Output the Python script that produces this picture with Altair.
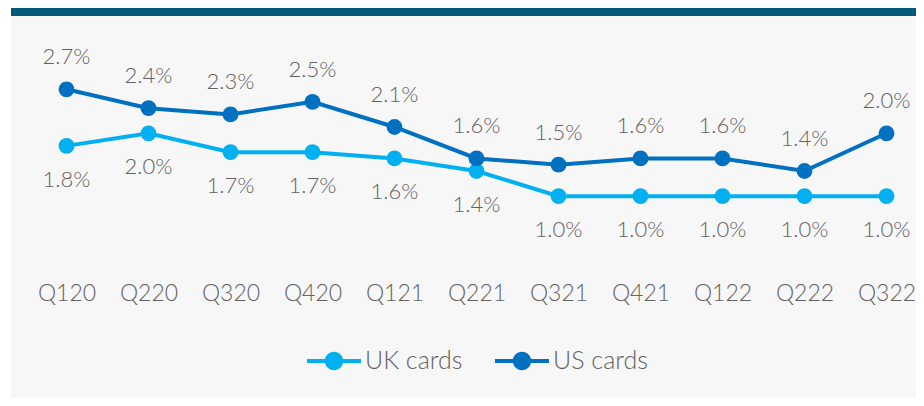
import altair as alt
import pandas as pd

quarters = ["Q120", "Q220", "Q320", "Q420", "Q121", "Q221", "Q321", "Q421", "Q122", "Q222", "Q322"]
uk_cards = [1.8, 2.0, 1.7, 1.7, 1.6, 1.4, 1.0, 1.0, 1.0, 1.0, 1.0]
us_cards = [2.7, 2.4, 2.3, 2.5, 2.1, 1.6, 1.5, 1.6, 1.6, 1.4, 2.0]
series_names = ["UK cards", "US cards"]
series_colors = ["#00B0F0", "#0070C0"]

rows = []
for q, v in zip(quarters, uk_cards):
    rows.append({"quarter": q, "series": "UK cards", "value": v, "label": f"{v:.1f}%"})
for q, v in zip(quarters, us_cards):
    rows.append({"quarter": q, "series": "US cards", "value": v, "label": f"{v:.1f}%"})
df = pd.DataFrame(rows)

FONT = "Lato"
TXT = "#626262"

W, H = 861, 220
PAD_L, PAD_T, PAD_R = 38, 31, 9
TOTAL_H = 390

x_enc = alt.X(
    "quarter:N",
    sort=quarters,
    scale=alt.Scale(type="point", padding=0, range=[20.5, 840.5]),
    axis=alt.Axis(
        title=None, labelAngle=0, ticks=False, tickSize=0, domain=False, grid=False,
        labelFontSize=23, labelColor=TXT, labelFont=FONT, labelFontWeight=300,
        labelPadding=23, zindex=2,
    ),
)
y_enc = alt.Y("value:Q", scale=alt.Scale(domain=[0, 3.5]), axis=None)
color_scale = alt.Scale(domain=series_names, range=series_colors)

legend_symbol = (
    "M -1 -0.075 H 1 V 0.075 H -1 Z "
    "M 0.34 0 A 0.34 0.34 0 1 1 -0.34 0 A 0.34 0.34 0 1 1 0.34 0 Z"
)
legend = alt.Legend(
    title=None, orient="none", direction="horizontal",
    legendX=261, legendY=295, padding=0, zindex=2,
    symbolType=legend_symbol, symbolSize=2916, symbolStrokeWidth=0,
    symbolOpacity=1, labelFontSize=25, labelFont=FONT, labelFontWeight=300,
    labelColor=TXT, labelOffset=4, columnPadding=32,
)

one = pd.DataFrame({"a": [0]})
panel = alt.Chart(one).mark_rect(color="#F7F7F7").encode(
    x=alt.value(-35), x2=alt.value(900), y=alt.value(-23), y2=alt.value(400)
)
topbar = alt.Chart(one).mark_rect(color="#02597B").encode(
    x=alt.value(-35), x2=alt.value(900), y=alt.value(-40), y2=alt.value(-23)
)

base = alt.Chart(df)
lines = base.mark_line(strokeWidth=4).encode(
    x=x_enc, y=y_enc,
    color=alt.Color("series:N", scale=color_scale, legend=legend),
)
points = base.mark_point(filled=True, size=250, opacity=1).encode(
    x=x_enc, y=y_enc,
    color=alt.Color("series:N", scale=color_scale, legend=legend),
)
uk_text = base.transform_filter(alt.datum.series == "UK cards").mark_text(
    fontSize=22, font=FONT, fontWeight=300, color=TXT, dy=34, baseline="middle"
).encode(x=x_enc, y=y_enc, text="label:N")
us_text = base.transform_filter(alt.datum.series == "US cards").mark_text(
    fontSize=22, font=FONT, fontWeight=300, color=TXT, dy=-32, baseline="middle"
).encode(x=x_enc, y=y_enc, text="label:N")

chart = alt.layer(panel, topbar, lines, points, uk_text, us_text).properties(
    width=W, height=H,
    padding={"left": PAD_L, "top": PAD_T, "right": PAD_R, "bottom": TOTAL_H - PAD_T - H},
    autosize=alt.AutoSizeParams(type="none"),
    background="white",
).configure_view(stroke=None)

chart.save("out.html", embed_options={"renderer": "svg", "actions": False})
